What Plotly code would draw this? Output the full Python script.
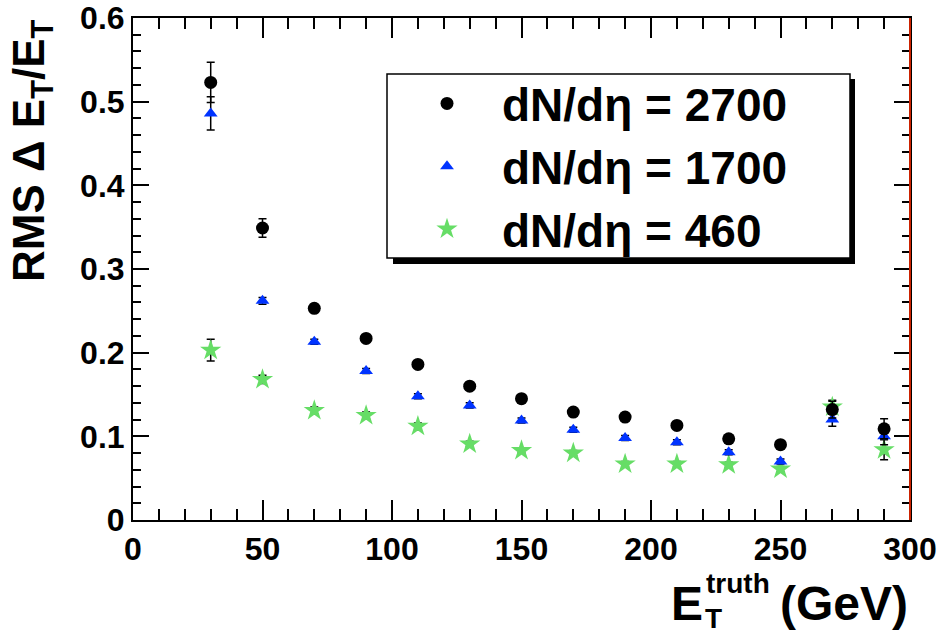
import plotly.graph_objects as go

x = [30, 50, 70, 90, 110, 130, 150, 170, 190, 210, 230, 250, 270, 290]

y_2700 = [0.523, 0.349, 0.253, 0.217, 0.186, 0.160, 0.145, 0.129, 0.123, 0.113, 0.097, 0.090, 0.132, 0.109]
e_2700 = [0.024, 0.011, 0.005, 0.004, 0.004, 0.004, 0.003, 0.003, 0.003, 0.004, 0.004, 0.004, 0.010, 0.012]

y_1700 = [0.486, 0.262, 0.213, 0.178, 0.148, 0.137, 0.119, 0.108, 0.098, 0.093, 0.081, 0.070, 0.120, 0.100]
e_1700 = [0.020, 0.004, 0.003, 0.003, 0.003, 0.003, 0.003, 0.003, 0.003, 0.003, 0.003, 0.003, 0.008, 0.010]

y_460 = [0.203, 0.168, 0.131, 0.125, 0.112, 0.091, 0.083, 0.080, 0.067, 0.067, 0.066, 0.061, 0.135, 0.084]
e_460 = [0.013, 0.005, 0.004, 0.004, 0.004, 0.003, 0.003, 0.003, 0.003, 0.003, 0.003, 0.003, 0.008, 0.012]

names = ["dN/dη = 2700", "dN/dη = 1700", "dN/dη = 460"]

FONT = "Liberation Sans"
L, R, T, B = 133, 910, 18, 520
PW, PH = R - L, B - T

def px(xp):
    return (xp - L) / PW

def py(yp):
    return (B - yp) / PH

fig = go.Figure()

def add(yv, ev, name, symbol, color, size, rank):
    fig.add_trace(go.Scatter(
        x=x, y=yv, mode="markers", name=name,
        legendgroup=name, legendrank=rank,
        marker=dict(symbol=symbol, color=color, size=size, line=dict(width=0)),
        error_y=dict(type="data", array=ev, visible=True, color="black", thickness=1.5, width=4),
    ))

add(y_460, e_460, names[2], "star", "#66dd66", 16, 3)
add(y_1700, e_1700, names[1], "triangle-up", "#0033ff", 12, 2)
add(y_2700, e_2700, names[0], "circle", "black", 13, 1)

fig.update_layout(
    width=942, height=635,
    margin=dict(l=L, r=942 - R, t=T, b=635 - B),
    paper_bgcolor="white", plot_bgcolor="white",
    font=dict(family=FONT, size=30, color="black", weight="bold"),
    showlegend=True,
    legend=dict(
        x=px(392), y=py(67), xanchor="left", yanchor="top",
        bgcolor="rgba(0,0,0,0)", borderwidth=0,
        font=dict(family=FONT, size=46, color="black", weight="bold"),
        tracegroupgap=0, itemsizing="trace", itemwidth=100,
    ),
)

fig.update_xaxes(
    range=[0, 300], tick0=0, dtick=50, ticks="inside", ticklen=20, tickwidth=1.5,
    tickcolor="black", showline=True, linecolor="black", linewidth=2, mirror="allticks",
    showgrid=False, zeroline=False, automargin=False,
    tickfont=dict(family=FONT, size=32, weight="bold"),
    minor=dict(dtick=10, ticks="inside", ticklen=11, tickwidth=1.5, tickcolor="black", showgrid=False),
)
fig.update_yaxes(
    range=[0, 0.6], tick0=0, dtick=0.1, ticks="inside", ticklen=16, tickwidth=1.5,
    tickcolor="black", showline=True, linecolor="black", linewidth=2, mirror="allticks",
    showgrid=False, zeroline=False, automargin=False,
    tickfont=dict(family=FONT, size=32, weight="bold"),
    minor=dict(dtick=0.02, ticks="inside", ticklen=8, tickwidth=1.5, tickcolor="black", showgrid=False),
)

# legend shadow and box
fig.add_shape(type="rect", xref="paper", yref="paper",
              x0=px(393), x1=px(855), y0=py(264), y1=py(79),
              fillcolor="black", line=dict(width=0), layer="above")
fig.add_shape(type="rect", xref="paper", yref="paper",
              x0=px(387), x1=px(850), y0=py(258), y1=py(74),
              fillcolor="white", line=dict(color="black", width=1.5), layer="above")

# red right frame edge
fig.add_shape(type="line", xref="paper", yref="paper", x0=1, x1=1, y0=0, y1=1,
              line=dict(color="#cc2200", width=2), layer="above")

# y title
fig.add_annotation(
    text="<b>RMS Δ E<sub>T</sub>/E<sub>T</sub></b>", textangle=-90,
    xref="paper", yref="paper", x=0, y=py(151), xshift=-101,
    xanchor="center", yanchor="middle", showarrow=False,
    font=dict(family=FONT, size=44, color="black"),
)

# x title
def xt(text, xl, yc, size):
    fig.add_annotation(
        text="<b>" + text + "</b>", xref="paper", yref="paper", x=px(xl), y=py(yc),
        xanchor="left", yanchor="middle", showarrow=False,
        font=dict(family=FONT, size=size, color="black"),
    )

xt("E", 669, 603, 48)
xt("truth", 704, 583, 28)
xt("T", 703, 618, 28)
xt("(GeV)", 778, 603, 48)

fig.write_html("out.html")
